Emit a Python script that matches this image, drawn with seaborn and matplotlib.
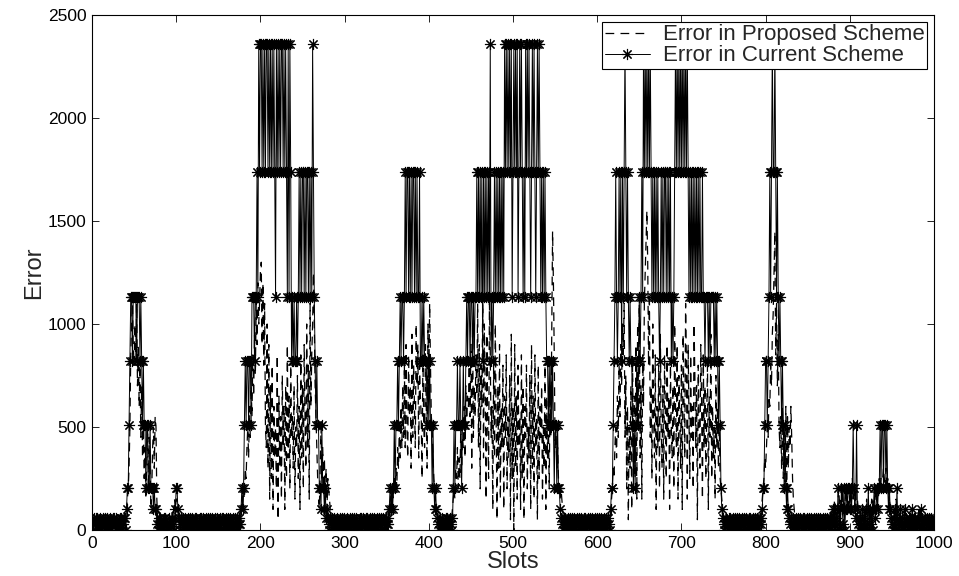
import numpy as np
import pandas as pd
import matplotlib
matplotlib.use("Agg")
import matplotlib.pyplot as plt
import seaborn as sns

# ---- data ----
# current scheme: each character is an index into current_levels (one per slot)
current_levels = [0, 30, 60, 100, 205, 510, 820, 1130, 1740, 2360]
current_codes = (
    "1210221012" "0121201210" "2101221021" "1022101220" "3445677677"
    "7767776765" "6554554454" "4434331021" "2011202110" "1201210234"
    "4321021201" "2102120121" "0212101202" "1201210212" "0121021201"
    "1202120121" "0212012102" "1201213434" "5656656657" "7767787989"
    "9898989989" "8989898798" "9898998989" "8797986767" "6676787878"
    "8787887878" "7987656554" "4354434232" "1021201210" "2101202121"
    "0120121021" "2012101202" "1210212012" "1021201210" "2120121021"
    "1234343454" "5565676776" "7878878787" "8878787786" "6767666565"
    "6554543432" "1020121012" "0210212045" "4556556545" "6556767767"
    "7676778787" "8786878787" "8796767878" "7878787879" "8989898978"
    "9898978989" "8787989898" "7898987898" "9878787876" "6565656545"
    "5454432102" "1201210212" "0121021201" "2102120121" "0212012102"
    "1201210212" "0121034456" "7876787868" "7898787676" "6545456567"
    "6787989898" "9898787878" "7876787878" "8787878676" "7898989898"
    "9898989878" "7878787878" "7877877677" "7676777767" "6765654321"
    "0121021201" "2102120121" "0212012102" "1201210212" "0121234456"
    "6567878988" "9878767656" "5454343212" "0121021201" "2102120121"
    "0212012102" "1201210212" "0121021203" "1312041304" "3140343443"
    "4345432531" "0210312030" "1403130342" "3434454554" "5545434321"
    "0123041203" "1201312012" "0213021201" "2103120121" "0212012102"
)

# proposed scheme: each character is a value in units of 50 (0-9, a-z)
proposed_digits = "0123456789abcdefghijklmnopqrstuvwxyz"
proposed_unit = 50
proposed_codes = (
    "1010110101" "0110101101" "1010110101" "0110101011" "2346ahkmig"
    "kgmeicg9e7" "a5836a4962" "48a6ba3101" "0101101010" "1101012323"
    "3211010110" "1010110101" "0110101101" "1010110101" "0110101011"
    "1010110101" "0110101101" "1010112324" "3658a7c9eb" "hdjfmiokmp"
    "qiogma8k6i" "3e5g2c7a4h" "1d6b3f8c2e" "5i7d4g9b6e" "3a8f5c2h7e"
    "4ib6k8g3mc" "hkpkeb8532" "6a48473625" "4321101010" "1101010110"
    "1010110101" "0110101101" "1010110101" "0110101011" "1101010110"
    "1012324354" "6486a7c8e9" "g8ia7hbe6j" "9gc8kei7gd" "b5ha8ic6ke"
    "mgba754321" "1010110101" "0110101234" "3658475a69" "8c7eadcgbi"
    "6k9ebhdm8i" "4gcm7ke3ja" "5mh9c2g7ka" "1e6i3c8g2d" "9h4b7f1j5c"
    "0i6d3g8b2h" "5e1c9g4a7f" "2i6d3h8b1g" "5c9e3a6g2d" "7b4e9jtoh8"
    "a685434321" "1010110101" "0110101101" "1010110101" "0110101011"
    "1010110101" "0110123465" "8a7d9gbiek" "hm9f4c1a6e" "2g8d5i3kam"
    "7e3hcmpsvq" "gn9e5kb7h2" "c8g4ja6e3h" "b5i9d2ga7e" "4kc8i3fb6g"
    "2jd7mg3ib5" "h9c4kf8e1g" "a6ic3h8e5b" "g2d9j5c7a3" "f8c6a54321"
    "1010110101" "0110101101" "1010110101" "0110101011" "1101234576"
    "8a9dcgejlp" "thmeja8b6c" "5a4c3b6a8c" "9532101010" "0110101101"
    "1010110101" "0110101101" "1010110121" "2312134232" "4232434323"
    "4353424232" "1210212123" "2121232323" "4343545456" "5464543221"
    "1212312101" "1010110101" "0110101101" "1212101011" "1101010110"
)

x_ticks = [0, 100, 200, 300, 400, 500, 600, 700, 800, 900, 1000]
y_ticks = [0, 500, 1000, 1500, 2000, 2500]
series_names = ["Error in Proposed Scheme", "Error in Current Scheme"]

# ---- decode ----
current = [current_levels[int(c)] for c in current_codes]
proposed = [proposed_digits.index(c) * proposed_unit for c in proposed_codes]
df_cur = pd.DataFrame({"Slots": np.arange(1, len(current) + 1), "Error": current})
df_pro = pd.DataFrame({"Slots": np.arange(1, len(proposed) + 1), "Error": proposed})

# ---- plot ----
sns.set_style("ticks")
plt.rcParams["font.family"] = ["Liberation Sans", "DejaVu Sans"]

fig, ax = plt.subplots(figsize=(9.59, 5.76), dpi=100)
fig.subplots_adjust(left=92 / 959, right=934 / 959, bottom=46 / 576, top=561 / 576)

sns.lineplot(data=df_pro, x="Slots", y="Error", ax=ax, color="black",
             linewidth=0.9, estimator=None, label=series_names[0],
             linestyle=(0, (7, 5)))
sns.lineplot(data=df_cur, x="Slots", y="Error", ax=ax, color="black",
             linewidth=0.7, estimator=None, label=series_names[1],
             marker=(8, 2, 0), markersize=8, markeredgewidth=0.8,
             markeredgecolor="black", markerfacecolor="black")

ax.set_xlim(0, 1000)
ax.set_ylim(0, 2500)
ax.set_xticks(x_ticks)
ax.set_yticks(y_ticks)
ax.tick_params(direction="in", top=True, right=True, length=5, width=0.6,
               labelsize=12.5, pad=4, colors="black")
for s in ax.spines.values():
    s.set_visible(True)
    s.set_linewidth(0.8)
    s.set_color("black")

ax.set_xlabel("Slots", fontsize=17, labelpad=0)
ax.set_ylabel("Error", fontsize=17, labelpad=2)

leg = ax.legend(loc="upper right", frameon=True, fancybox=False,
                edgecolor="black", framealpha=1, fontsize=16,
                handlelength=2.0, borderaxespad=0.3, borderpad=0.12,
                labelspacing=0.0, handletextpad=0.6)
leg.get_frame().set_linewidth(0.8)

fig.savefig("out.png", dpi=100)
